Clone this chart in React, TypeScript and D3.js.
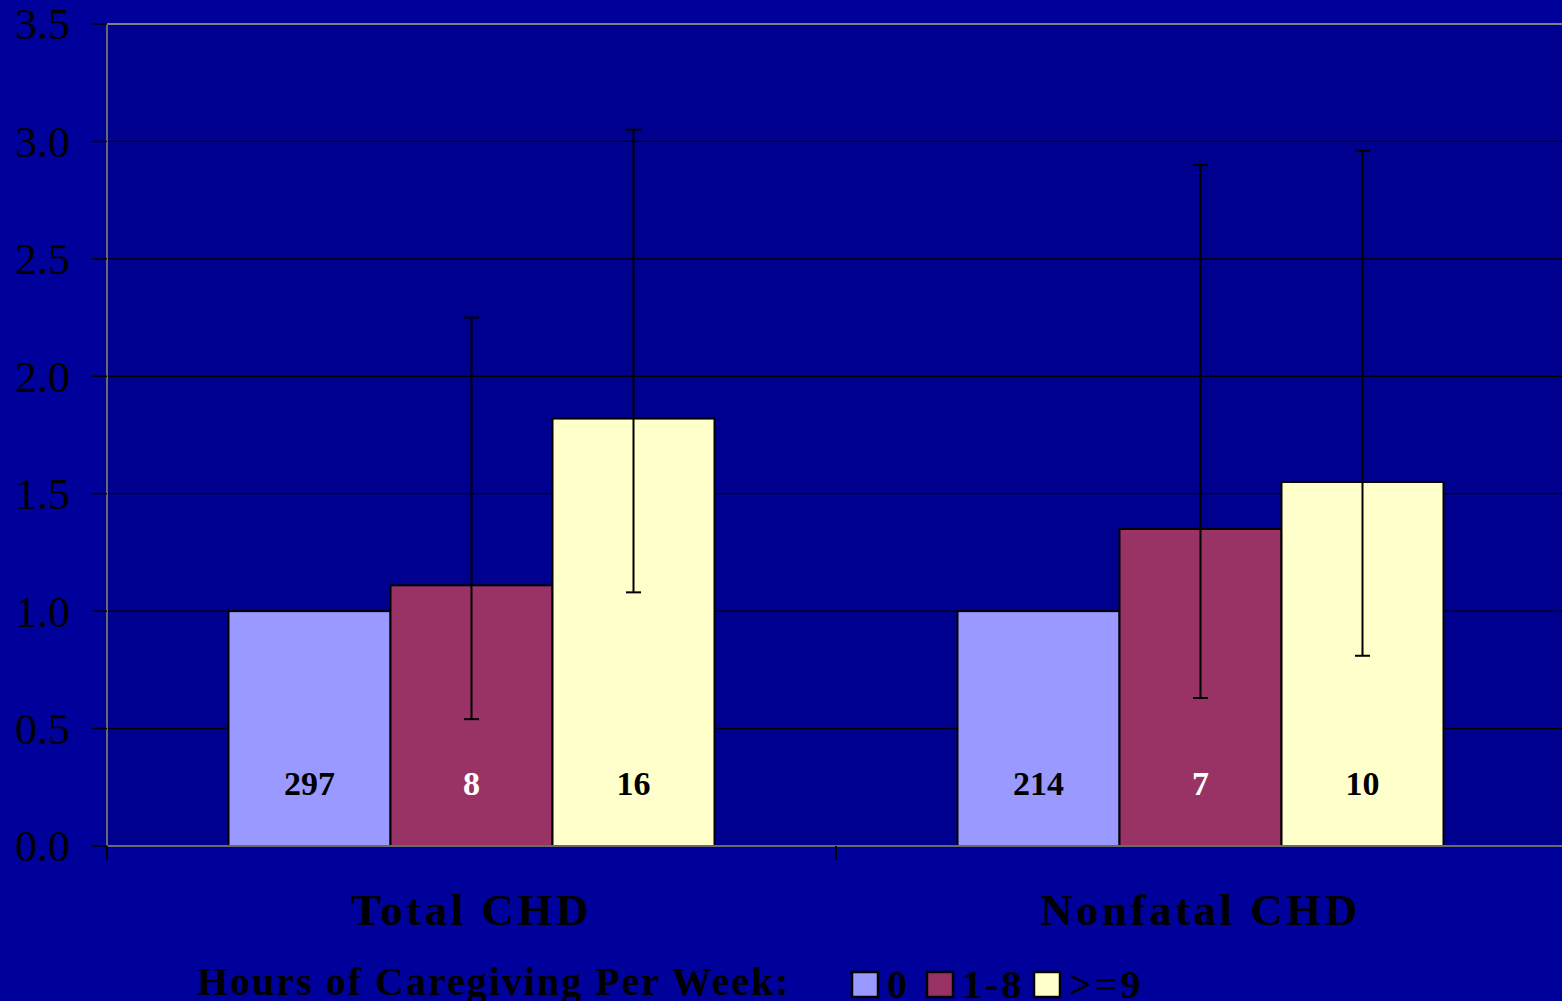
import React, { useEffect, useRef } from 'react';
import * as d3 from 'd3';

// Chart data
const categories = ['Total CHD', 'Nonfatal CHD'];
const seriesNames = ['0', '1-8', '>=9'];
const seriesColors = ['#9999FF', '#993366', '#FFFFCC'];
const labelColors = ['black', 'white', 'black'];
const riskValues = [
  [1.0, 1.11, 1.82],
  [1.0, 1.35, 1.55],
];
const ciLow = [
  [null, 0.54, 1.08],
  [null, 0.63, 0.81],
];
const ciHigh = [
  [null, 2.25, 3.05],
  [null, 2.9, 2.96],
];
const caseCounts = [
  ['297', '8', '16'],
  ['214', '7', '10'],
];
const yTicks = [0, 0.5, 1.0, 1.5, 2.0, 2.5, 3.0, 3.5];

const App = () => {
  const svgRef = useRef<SVGSVGElement>(null);

  useEffect(() => {
    document.body.style.margin = '0';
    const width = 1562;
    const height = 1001;
    const plot = { left: 107, top: 24, bottom: 846, right: 1565 };
    const font = '"Liberation Serif", "Times New Roman", serif';

    const svg = d3.select(svgRef.current);
    svg.selectAll('*').remove();

    svg.append('rect')
      .attr('width', width)
      .attr('height', height)
      .attr('fill', '#00009A');

    const x = d3.scaleBand()
      .domain(categories)
      .range([plot.left, plot.right])
      .padding(0);

    const bw = x.bandwidth();
    // gap width 150% of a bar: three bars take the middle 2/3 of each band
    const xInner = d3.scaleBand()
      .domain(seriesNames)
      .range([bw / 6, bw * 5 / 6])
      .padding(0);

    const y = d3.scaleLinear()
      .domain([0, 3.5])
      .range([plot.bottom, plot.top]);

    // plot area
    svg.append('rect')
      .attr('x', plot.left)
      .attr('y', plot.top)
      .attr('width', plot.right - plot.left)
      .attr('height', plot.bottom - plot.top)
      .attr('fill', '#00008F');

    // grid lines
    svg.append('g')
      .selectAll('line')
      .data(yTicks.filter(d => d > 0 && d < 3.5))
      .enter()
      .append('line')
      .attr('x1', plot.left)
      .attr('x2', plot.right)
      .attr('y1', d => y(d))
      .attr('y2', d => y(d))
      .attr('stroke', 'black')
      .attr('stroke-width', 1.2);

    // top border
    svg.append('line')
      .attr('x1', plot.left)
      .attr('x2', plot.right)
      .attr('y1', y(3.5))
      .attr('y2', y(3.5))
      .attr('stroke', '#808080')
      .attr('stroke-width', 2);

    // bars
    const groups = svg.append('g')
      .selectAll('g')
      .data(categories)
      .enter()
      .append('g')
      .attr('transform', d => `translate(${x(d)},0)`);

    groups.each(function (cat, ci) {
      const g = d3.select(this);
      seriesNames.forEach((s, si) => {
        const v = riskValues[ci][si];
        const bx = xInner(s) as number;
        g.append('rect')
          .attr('x', bx)
          .attr('y', y(v))
          .attr('width', xInner.bandwidth())
          .attr('height', y(0) - y(v))
          .attr('fill', seriesColors[si])
          .attr('stroke', 'black')
          .attr('stroke-width', 2);

        g.append('text')
          .attr('x', bx + xInner.bandwidth() / 2)
          .attr('y', 795)
          .attr('text-anchor', 'middle')
          .attr('font-family', font)
          .attr('font-weight', 'bold')
          .attr('font-size', 34)
          .attr('fill', labelColors[si])
          .text(caseCounts[ci][si]);
      });
    });

    // error bars
    groups.each(function (cat, ci) {
      const g = d3.select(this);
      seriesNames.forEach((s, si) => {
        const lo = ciLow[ci][si];
        const hi = ciHigh[ci][si];
        if (lo == null || hi == null) return;
        const cx = (xInner(s) as number) + xInner.bandwidth() / 2;
        const cap = 7.5;
        g.append('line')
          .attr('x1', cx).attr('x2', cx)
          .attr('y1', y(lo)).attr('y2', y(hi))
          .attr('stroke', 'black').attr('stroke-width', 2);
        [lo, hi].forEach(v => {
          g.append('line')
            .attr('x1', cx - cap).attr('x2', cx + cap)
            .attr('y1', y(v)).attr('y2', y(v))
            .attr('stroke', 'black').attr('stroke-width', 2);
        });
      });
    });

    // axes
    svg.append('line')
      .attr('x1', plot.left).attr('x2', plot.left)
      .attr('y1', plot.top).attr('y2', plot.bottom)
      .attr('stroke', '#6a6a6a').attr('stroke-width', 2);
    svg.append('line')
      .attr('x1', plot.left).attr('x2', plot.right)
      .attr('y1', plot.bottom).attr('y2', plot.bottom)
      .attr('stroke', '#6a6a6a').attr('stroke-width', 2);

    const yAxis = svg.append('g');
    yAxis.selectAll('line')
      .data(yTicks)
      .enter()
      .append('line')
      .attr('x1', plot.left - 15)
      .attr('x2', plot.left)
      .attr('y1', d => y(d))
      .attr('y2', d => y(d))
      .attr('stroke', 'black')
      .attr('stroke-width', 1.5);
    yAxis.selectAll('text')
      .data(yTicks)
      .enter()
      .append('text')
      .attr('x', 70)
      .attr('y', d => y(d))
      .attr('dy', '0.35em')
      .attr('text-anchor', 'end')
      .attr('font-family', font)
      .attr('font-size', 44)
      .attr('fill', 'black')
      .text(d => d3.format('.1f')(d));

    // category ticks
    svg.append('g')
      .selectAll('line')
      .data(categories)
      .enter()
      .append('line')
      .attr('x1', d => x(d) as number)
      .attr('x2', d => x(d) as number)
      .attr('y1', plot.bottom)
      .attr('y2', plot.bottom + 14)
      .attr('stroke', 'black')
      .attr('stroke-width', 2);

    svg.append('g')
      .selectAll('text')
      .data(categories)
      .enter()
      .append('text')
      .attr('x', d => (x(d) as number) + bw / 2)
      .attr('y', 925)
      .attr('text-anchor', 'middle')
      .attr('font-family', font)
      .attr('font-weight', 'bold')
      .attr('font-size', 45)
      .attr('letter-spacing', 3.5)
      .attr('fill', 'black')
      .text(d => d);

    // legend
    svg.append('text')
      .attr('x', 197)
      .attr('y', 995)
      .attr('font-family', font)
      .attr('font-weight', 'bold')
      .attr('font-size', 40)
      .attr('letter-spacing', 2)
      .attr('fill', 'black')
      .text('Hours of Caregiving Per Week:');

    const legendX = [852, 927, 1034];
    seriesNames.forEach((s, i) => {
      svg.append('rect')
        .attr('x', legendX[i])
        .attr('y', 972)
        .attr('width', 26)
        .attr('height', 25)
        .attr('fill', seriesColors[i])
        .attr('stroke', 'black')
        .attr('stroke-width', 2.5);
      svg.append('text')
        .attr('x', legendX[i] + 35)
        .attr('y', 998)
        .attr('font-family', font)
        .attr('font-weight', 'bold')
        .attr('font-size', 40)
        .attr('letter-spacing', 3)
        .attr('fill', 'black')
        .text(s);
    });
  }, []);

  return (
    <svg ref={svgRef} width={1562} height={1001} viewBox="0 0 1562 1001" style={{ display: 'block' }} />
  );
};

export default App;
